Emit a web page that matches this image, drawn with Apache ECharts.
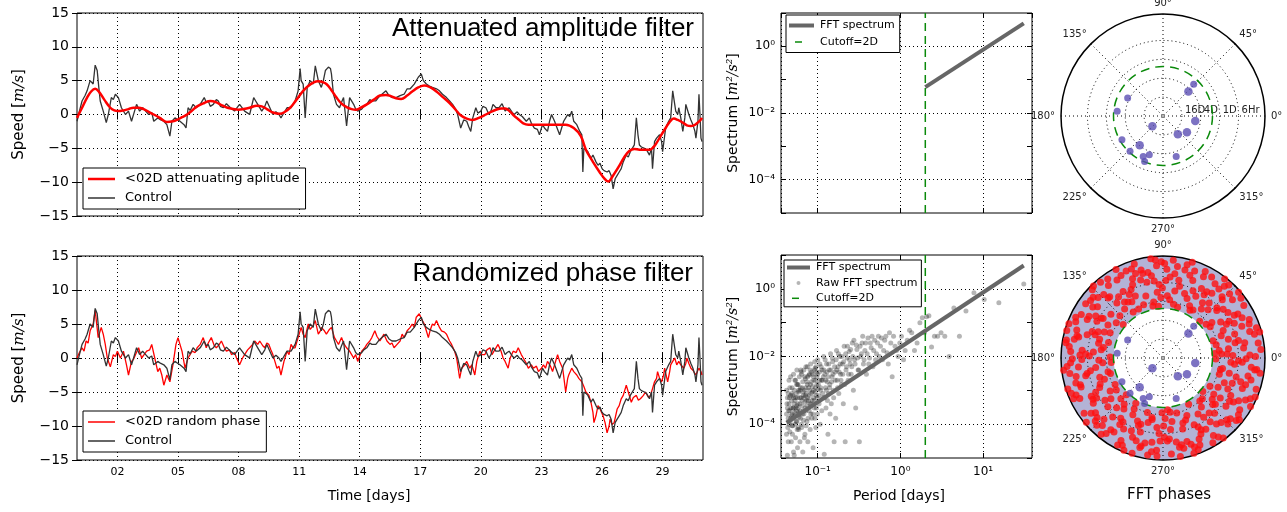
<!DOCTYPE html>
<html><head><meta charset="utf-8">
<script src="https://cdn.jsdelivr.net/npm/echarts@6/dist/echarts.min.js"></script>
<style>html,body{margin:0;padding:0;background:#fff}#c{width:1287px;height:512px}</style>
</head><body><div id="c"></div>
<script>
// ---------------- DATA ----------------
const xTickDays = [2,5,8,11,14,17,20,23,26,29];
const speedRange = [-15, 15];
const controlSeries = [[0,-1],[0.12,0.5],[0.25,2],[0.4,2.8],[0.5,3.5],[0.65,5],[0.8,4.5],[0.9,7.3],[1.0,6.5],[1.08,4],[1.15,2],[1.3,0.5],[1.45,-1.2],[1.55,0],[1.7,2.5],[1.8,2.2],[1.9,3],[2.05,2.5],[2.2,1],[2.4,0],[2.55,0.5],[2.7,-1],[2.85,0.5],[2.95,1.5],[3.1,0.5],[3.25,1],[3.4,0.5],[3.55,0],[3.7,0.3],[3.8,-1],[4.0,-0.5],[4.15,-0.8],[4.3,-1],[4.45,-1.5],[4.6,-3.2],[4.7,-1],[4.85,-0.5],[5.0,-0.8],[5.1,-1],[5.3,-1.5],[5.4,-2],[5.5,1],[5.6,0.6],[5.75,1.5],[5.9,1],[6.1,1.5],[6.3,2.5],[6.4,1.8],[6.5,2],[6.6,1.2],[6.75,1.5],[6.9,2.2],[7.0,2],[7.1,1.2],[7.25,1],[7.4,1.6],[7.6,1],[7.8,0.5],[7.9,0.9],[8.05,1.5],[8.2,0.9],[8.3,0.5],[8.45,0.2],[8.55,0],[8.75,2.5],[8.85,2],[8.95,1.5],[9.15,0.5],[9.3,1.2],[9.4,2],[9.55,1],[9.7,0],[9.85,0.4],[10.0,0],[10.1,-0.5],[10.2,0],[10.4,1],[10.6,1],[10.8,2],[10.95,3.5],[11.05,6.8],[11.1,5],[11.2,4.5],[11.3,-0.5],[11.4,4],[11.55,5],[11.7,4.5],[11.8,7.2],[11.95,5],[12.1,4],[12.2,5],[12.3,6.5],[12.45,7],[12.55,6.8],[12.6,6],[12.7,3],[12.85,1.5],[13.0,1],[13.1,1.8],[13.2,2.5],[13.35,-1.7],[13.5,2.5],[13.7,1.5],[13.8,0.8],[13.9,0.5],[14.1,0.8],[14.2,1.2],[14.35,1.5],[14.5,2.2],[14.6,2],[14.8,2],[14.95,2.6],[15.1,3],[15.3,3.5],[15.45,2.8],[15.6,2.5],[15.8,2.5],[16.0,2.8],[16.2,3],[16.35,3.8],[16.5,3.8],[16.7,4.5],[16.9,5.5],[17.05,6],[17.15,5],[17.3,4.5],[17.45,4.2],[17.6,4],[17.8,3.8],[17.95,3.5],[18.1,3],[18.3,2.5],[18.45,2],[18.6,1.5],[18.75,0.8],[18.85,0],[19.0,-2],[19.15,-0.8],[19.3,-1],[19.4,-1.8],[19.5,-2.5],[19.6,-0.5],[19.75,1],[19.85,0.2],[20.0,0.5],[20.1,1.2],[20.25,1],[20.4,0],[20.5,0.5],[20.6,1.5],[20.75,1],[20.9,1],[21.05,1.6],[21.2,0.5],[21.3,0.8],[21.4,1],[21.55,0.3],[21.65,0],[21.8,0.4],[21.9,0],[22.05,-0.3],[22.25,-1],[22.4,-0.5],[22.5,-1.3],[22.65,-2],[22.8,-2.2],[22.9,-3],[23.05,-1.5],[23.15,-2],[23.3,-2.5],[23.4,-1],[23.5,0],[23.65,-1],[23.75,-1.8],[23.9,-3],[24.0,-2],[24.1,-1],[24.2,-0.5],[24.3,0],[24.4,-0.3],[24.5,0.5],[24.6,-1],[24.75,-1.5],[24.9,-2.5],[25.0,-3],[25.05,-8.5],[25.1,-5],[25.2,-5.2],[25.3,-5.5],[25.45,-6.5],[25.55,-6],[25.7,-7],[25.8,-7.5],[25.9,-7.2],[26.0,-8],[26.1,-8.3],[26.25,-8.5],[26.35,-8.3],[26.45,-9],[26.55,-11],[26.65,-9.5],[26.75,-9],[26.85,-8.5],[26.95,-8],[27.05,-7],[27.2,-6],[27.3,-6.3],[27.4,-5.5],[27.5,-5],[27.6,-4.5],[27.7,-0.5],[27.78,-3],[27.85,-4.5],[27.95,-4.8],[28.1,-5],[28.2,-5.2],[28.35,-6],[28.45,-5],[28.5,-8],[28.6,-4],[28.7,-3.5],[28.85,-3],[28.95,-4],[29.0,-5.5],[29.15,-2],[29.3,-1],[29.4,-0.5],[29.5,3.5],[29.6,1.5],[29.65,0.5],[29.75,0],[29.8,1],[29.9,-0.5],[30.0,-2.5],[30.1,-0.5],[30.15,1.5],[30.3,0],[30.4,-0.8],[30.5,-1.5],[30.6,-2.5],[30.65,-3.5],[30.75,-1],[30.8,3],[30.85,0],[30.9,-3.5],[30.95,-4]];
const attenuatedSeries = [[0,-0.5],[0.25,1],[0.5,2.5],[0.7,3.4],[0.9,3.8],[1.1,3.3],[1.35,2.2],[1.65,1],[1.85,0.6],[2.05,0.5],[2.3,0.6],[2.55,0.8],[2.8,1],[3.05,1],[3.3,0.8],[3.55,0.4],[3.8,0],[4.1,-0.5],[4.45,-1.1],[4.75,-1],[4.95,-0.8],[5.2,-0.4],[5.45,0],[5.7,0.6],[5.95,1.2],[6.3,1.7],[6.6,2],[6.9,1.8],[7.15,1.4],[7.45,1],[7.75,0.8],[8.0,0.7],[8.25,0.8],[8.55,1],[8.9,1.3],[9.15,1.2],[9.4,0.8],[9.7,0.3],[10.05,0.1],[10.3,0.4],[10.55,1],[10.75,1.7],[10.95,2.5],[11.2,3.5],[11.45,4.2],[11.7,4.7],[11.95,4.9],[12.15,4.8],[12.35,4.5],[12.6,3.6],[12.85,2.5],[13.1,1.6],[13.35,1.1],[13.6,0.8],[13.8,0.7],[14.05,1],[14.35,1.5],[14.7,2.2],[15.0,2.8],[15.3,2.9],[15.55,2.7],[15.8,2.4],[16.05,2.3],[16.35,2.8],[16.6,3.4],[16.9,4],[17.2,4.3],[17.5,4.0],[17.8,3.4],[18.1,2.6],[18.45,1.7],[18.75,0.7],[19.0,-0.1],[19.3,-0.6],[19.6,-0.8],[19.9,-0.5],[20.25,0],[20.5,0.4],[20.75,0.7],[21.0,0.9],[21.2,0.9],[21.45,0.4],[21.65,-0.2],[21.9,-0.8],[22.1,-1.3],[22.35,-1.5],[22.6,-1.5],[23.0,-1.5],[23.4,-1.5],[23.8,-1.5],[24.2,-1.5],[24.6,-2],[24.95,-3.2],[25.2,-5.2],[25.55,-7],[25.9,-8.6],[26.1,-9.4],[26.3,-9.9],[26.55,-9],[26.85,-7.6],[27.1,-6.3],[27.35,-5.4],[27.6,-5.1],[27.85,-5.2],[28.1,-5.2],[28.35,-5.2],[28.55,-4.8],[28.7,-4.2],[28.9,-3.2],[29.15,-2],[29.35,-1.1],[29.55,-0.6],[29.75,-0.8],[30.0,-1.2],[30.2,-1.6],[30.4,-1.7],[30.55,-1.6],[30.7,-1.3],[30.85,-0.9],[30.95,-0.5]];
const randomPhaseSeries = [[0,0],[0.12,0.8],[0.25,1.5],[0.35,1],[0.45,2.5],[0.55,2.2],[0.65,4],[0.8,5],[0.9,7],[1.05,3],[1.2,4.5],[1.3,3.5],[1.4,2],[1.5,0],[1.65,-1.3],[1.8,0.5],[1.9,0.2],[2.0,1],[2.15,0],[2.3,1],[2.45,-1],[2.55,-2.5],[2.7,-0.5],[2.8,-0.2],[2.9,0.5],[3.05,1.5],[3.2,0],[3.35,0.6],[3.45,1],[3.6,1.2],[3.7,2],[3.85,0],[4.0,-2],[4.1,-1.5],[4.2,-2.5],[4.3,-4],[4.45,-2.5],[4.6,-3.5],[4.75,-1],[4.9,2],[5.0,3],[5.1,2],[5.2,1],[5.35,-1.5],[5.5,0],[5.6,0.5],[5.7,1],[5.85,0.8],[5.95,1.5],[6.1,2],[6.25,3],[6.4,1.5],[6.5,2.2],[6.65,3],[6.8,1.8],[6.9,1.5],[7.05,2],[7.15,2.5],[7.3,1.5],[7.4,1],[7.55,1.2],[7.65,0.5],[7.8,0.8],[7.9,0],[8.05,-1],[8.2,0],[8.3,0.5],[8.45,1.2],[8.55,1.5],[8.7,2],[8.8,2.5],[8.95,2],[9.05,2.5],[9.2,1.8],[9.3,1.5],[9.4,2.2],[9.5,2],[9.6,1.2],[9.7,0.5],[9.8,-0.5],[9.9,-1.5],[10.0,-1.2],[10.1,-2.5],[10.25,-0.5],[10.4,1],[10.5,0.5],[10.6,2],[10.7,1.5],[10.8,1.5],[10.95,3],[11.1,4.5],[11.2,3.5],[11.3,3],[11.45,5],[11.55,4.2],[11.6,4],[11.7,4.8],[11.8,5.5],[11.95,3.5],[12.05,4],[12.1,4.5],[12.25,4],[12.35,3.5],[12.5,4.2],[12.6,4.5],[12.75,3],[12.85,2.5],[12.95,2],[13.1,3],[13.2,2.2],[13.35,1.5],[13.5,1],[13.6,0.5],[13.7,0],[13.8,0.5],[13.9,-0.5],[14.0,0.3],[14.1,1],[14.25,1.5],[14.35,2],[14.5,2.5],[14.6,3],[14.75,4],[14.85,3.2],[15.0,2.5],[15.1,3],[15.2,3.5],[15.35,2.5],[15.5,2],[15.6,2.2],[15.7,1.5],[15.85,2],[16.0,2.5],[16.1,3.5],[16.2,3],[16.35,4],[16.5,4.5],[16.6,5],[16.7,4.5],[16.8,6],[16.95,6.5],[17.05,5.8],[17.2,5],[17.3,4],[17.4,3],[17.5,4.2],[17.6,5],[17.7,4.8],[17.8,5.5],[17.95,4.5],[18.05,4],[18.2,3.8],[18.3,3.5],[18.45,2.5],[18.55,2],[18.7,1],[18.8,0],[18.95,-3],[19.05,-1.5],[19.2,-1],[19.3,-0.5],[19.45,-1.5],[19.55,-1],[19.7,-2.5],[19.8,-0.5],[19.95,1],[20.05,0.5],[20.2,0.5],[20.3,1.2],[20.45,1.5],[20.55,0.5],[20.65,1],[20.75,1.5],[20.85,2],[21.0,1],[21.1,0],[21.2,-0.5],[21.35,-1.5],[21.45,0],[21.6,1],[21.75,0.8],[21.85,1.5],[22.0,0.5],[22.1,0],[22.25,-0.8],[22.35,-1.5],[22.5,-1],[22.6,-1.5],[22.75,-1.2],[22.85,-2],[23.0,-1.5],[23.1,-1],[23.2,-1.5],[23.3,-0.5],[23.45,-1.2],[23.55,-2],[23.65,-1],[23.8,0.5],[23.9,-0.5],[24.05,-1.5],[24.2,-5],[24.3,-3],[24.35,-2.5],[24.5,-1.5],[24.6,-2],[24.75,-2.5],[24.85,-3],[25.0,-3.5],[25.1,-4.2],[25.2,-5],[25.35,-5.5],[25.45,-6.5],[25.55,-8],[25.6,-9.5],[25.7,-8.5],[25.8,-7],[25.9,-7.5],[26.05,-8.5],[26.15,-9.5],[26.25,-11],[26.35,-10],[26.4,-9],[26.5,-9.8],[26.6,-9.5],[26.75,-7.5],[26.85,-7],[26.95,-6],[27.05,-5.5],[27.2,-4],[27.3,-5],[27.45,-6.5],[27.55,-5.8],[27.7,-5.5],[27.8,-6.2],[27.9,-6],[28.05,-5.5],[28.15,-5],[28.3,-5.8],[28.4,-5.5],[28.5,-4.5],[28.6,-3.5],[28.7,-3],[28.75,-2],[28.85,-3],[28.95,-3.5],[29.05,-2.5],[29.1,-1.5],[29.25,-3.5],[29.35,-2],[29.4,-1],[29.5,-0.5],[29.6,0],[29.7,-1],[29.8,-0.5],[29.9,-1],[30.05,-1.5],[30.15,-0.8],[30.2,0],[30.3,-0.8],[30.4,-1.5],[30.5,-1.8],[30.65,-2.5],[30.75,-1.8],[30.8,-1.5],[30.9,-2],[30.95,-2.5]];

const periodRange = [0.036, 39];
const spectrumRange = [1e-5, 10];
const cutoffPeriod = 2;
const fftLineTop = [[2,0.06],[31,4.9]];
const fftLineBottom = [[0.042,1.1e-4],[31,4.9]];
const rawSpectrum = [[0.042,2e-4],[0.042,5e-5],[0.042,1e-3],[0.043,3e-4],[0.043,1.2e-5],[0.043,6e-4],[0.044,1.5e-4],[0.044,8e-4],[0.044,3e-5],[0.045,2e-3],[0.045,1e-4],[0.045,4e-4],[0.046,6e-5],[0.046,1.2e-3],[0.046,2.5e-4],[0.047,2.5e-3],[0.047,1.5e-4],[0.047,7e-4],[0.048,5e-4],[0.048,3e-5],[0.048,1.8e-4],[0.049,1.2e-3],[0.049,2e-4],[0.049,9e-5],[0.050,7e-4],[0.050,9e-5],[0.050,3e-4],[0.051,3e-3],[0.051,3e-4],[0.051,1.5e-5],[0.052,1.2e-5],[0.052,1e-3],[0.052,4e-4],[0.053,1.8e-4],[0.053,5e-4],[0.053,2e-3],[0.054,4e-5],[0.054,2e-3],[0.054,6e-4],[0.055,2.5e-4],[0.055,8e-4],[0.055,1.2e-4],[0.056,1.2e-4],[0.056,4e-3],[0.056,3.5e-4],[0.057,6e-4],[0.057,2e-5],[0.057,1.5e-3],[0.058,3e-4],[0.058,1.5e-3],[0.058,8e-5],[0.059,7e-5],[0.059,9e-4],[0.059,2.2e-4],[0.060,2e-4],[0.060,2.5e-3],[0.061,4e-4],[0.061,3e-5],[0.061,1e-3],[0.062,1.2e-3],[0.062,1.5e-4],[0.063,6e-4],[0.063,3.5e-3],[0.064,3e-3],[0.064,8e-5],[0.065,3.5e-4],[0.065,1.2e-3],[0.066,1.8e-3],[0.066,1.5e-5],[0.067,7e-4],[0.067,2.5e-4],[0.068,2e-4],[0.068,4e-3],[0.069,1e-3],[0.069,4e-5],[0.070,5e-5],[0.070,4.5e-4],[0.071,2.2e-3],[0.071,7e-4],[0.072,2.5e-4],[0.072,5e-3],[0.073,8e-4],[0.074,1.2e-4],[0.074,1.8e-3],[0.075,5e-3],[0.075,1.5e-3],[0.076,3e-5],[0.076,6e-4],[0.077,5e-4],[0.078,2.8e-3],[0.079,2.5e-4],[0.080,1e-3],[0.081,7e-5],[0.081,4e-3],[0.082,6e-3],[0.083,4e-4],[0.084,1.8e-3],[0.085,1.5e-4],[0.086,9e-4],[0.087,3e-3],[0.088,2e-5],[0.089,6e-4],[0.090,2e-3],[0.091,3e-4],[0.092,7e-3],[0.093,4.5e-3],[0.094,1.2e-3],[0.095,8e-5],[0.096,7e-4],[0.097,3.5e-3],[0.098,2.5e-3],[0.099,2e-4],[0.100,8e-3],[0.101,1.1e-3],[0.102,1.5e-3],[0.104,4e-4],[0.105,3.5e-3],[0.106,6e-3],[0.107,1e-4],[0.108,1e-3],[0.110,5e-3],[0.111,2e-3],[0.112,2.5e-4],[0.114,2e-3],[0.116,6e-4],[0.118,1e-2],[0.119,4e-3],[0.120,1.3e-5],[0.122,3e-3],[0.124,1.2e-3],[0.126,3e-4],[0.128,6e-3],[0.130,1.8e-3],[0.133,5e-5],[0.135,8e-4],[0.138,4e-3],[0.140,1.5e-3],[0.143,1.2e-2],[0.146,4e-4],[0.149,2.5e-3],[0.152,7e-3],[0.155,1e-3],[0.158,3e-5],[0.162,3.5e-3],[0.165,1.5e-4],[0.169,1.5e-2],[0.172,2e-3],[0.176,5e-3],[0.180,8e-4],[0.185,1e-2],[0.189,3e-3],[0.194,1.5e-3],[0.199,6e-3],[0.204,4e-4],[0.209,2e-2],[0.215,3e-5],[0.220,4e-3],[0.226,9e-3],[0.233,2e-3],[0.240,1.4e-2],[0.247,6e-3],[0.254,3e-3],[0.262,2.5e-2],[0.270,1e-3],[0.279,8e-3],[0.288,3e-4],[0.298,1.6e-2],[0.308,4e-3],[0.319,3e-5],[0.331,1e-2],[0.344,2.5e-2],[0.357,6e-3],[0.372,1.5e-2],[0.388,3e-3],[0.405,3.5e-2],[0.423,9e-3],[0.443,1.8e-2],[0.465,5e-3],[0.488,3e-2],[0.514,1.2e-2],[0.542,4e-2],[0.574,2e-2],[0.608,8e-3],[0.646,3e-2],[0.689,1.3e-2],[0.738,5e-2],[0.795,2.5e-3],[0.861,2e-2],[0.939,1e-2],[1.03,4e-2],[1.14,1.5e-2],[1.29,6e-2],[1.48,1.5e-2],[1.72,0.1],[1.84,0.14],[2.07,0.15],[2.21,0.16],[2.38,0.019],[2.58,0.04],[2.82,0.04],[3.1,0.05],[3.44,0.04],[3.88,0.01],[4.43,0.27],[5.17,0.04],[6.2,0.22],[7.75,0.76],[10.3,0.48],[15.5,0.39],[31,1.4],
[0.0425,4e-4],[0.0435,8e-5],[0.0445,2.5e-4],[0.0455,6e-4],[0.0465,1.2e-4],[0.0475,3e-4],[0.0485,8e-4],[0.0495,5e-5],[0.0505,1.5e-4],[0.0515,6e-4],[0.0525,2.2e-4],[0.0535,1e-4],[0.0545,3e-4],[0.0555,1.5e-3],[0.0565,7e-5],[0.0575,4e-4],[0.0585,1e-3],[0.0595,1.6e-4],[0.0605,6e-4],[0.0615,2.5e-4],[0.0625,4e-3],[0.0635,1e-4],[0.0645,5e-4],[0.0655,2e-4],[0.0665,9e-4],[0.0675,1.3e-4],[0.0685,6e-4],[0.0695,2.5e-3],[0.0705,3e-4],[0.0715,1.2e-3],[0.0725,9e-5],[0.0735,5e-4],[0.0745,3.5e-4],[0.0755,2.5e-3],[0.0765,1.5e-4],[0.0775,1.2e-3],[0.0785,7e-4],[0.0795,3e-3],[0.0805,4e-4],[0.0815,1.5e-3],[0.0825,2e-4],[0.0835,8e-4],[0.0845,3.5e-3],[0.0855,5e-4],[0.0865,1.3e-3],[0.0875,2e-4],[0.0885,2.5e-3],[0.0895,1e-3],[0.0905,5e-4],[0.0915,4e-3],[0.0925,1.5e-4],[0.0935,9e-4],[0.0945,2e-3],[0.0955,5e-3],[0.0965,3e-4],[0.0975,1.5e-3],[0.0985,6e-4],[0.0995,3e-3],[0.103,7e-4],[0.106,2e-3],[0.109,1.2e-3],[0.113,4e-3],[0.115,8e-4],[0.117,2.5e-3],[0.121,6e-4],[0.123,8e-3],[0.125,2e-3],[0.127,1e-3],[0.129,3.5e-3],[0.131,5e-4],[0.134,2.5e-3],[0.136,6e-3],[0.139,1.2e-3],[0.141,2e-4],[0.144,4e-3],[0.147,1.8e-3],[0.150,9e-3],[0.153,3e-3],[0.156,6e-4],[0.160,5e-3],[0.163,2e-3],[0.167,8e-3],[0.170,4e-3],[0.174,1.2e-3],[0.178,1.2e-2],[0.182,3.5e-3],[0.187,6e-3],[0.191,2e-3],[0.196,1e-2],[0.201,3e-3],[0.206,7e-3],[0.212,1.5e-3],[0.218,1.2e-2],[0.223,5e-3],[0.229,2e-2],[0.236,3e-3],[0.243,8e-3],[0.250,1.6e-2],[0.258,5e-3],[0.266,1e-2],[0.274,3e-2],[0.283,6e-3],[0.293,2.2e-2],[0.303,9e-3],[0.313,4e-3],[0.325,2e-2],[0.337,1.2e-2],[0.350,4e-2],[0.364,8e-3],[0.380,2.5e-2],[0.396,1.2e-2],[0.414,6e-3],[0.433,2.5e-2],[0.454,4e-2],[0.476,1.5e-2],[0.501,8e-3],[0.528,2.5e-2],[0.557,1e-2],[0.590,3.5e-2],[0.627,1.5e-2],[0.667,4e-2],[0.713,6e-3],[0.765,2.5e-2],[0.826,4e-2],[0.897,1.5e-2],[0.983,2.5e-2],[1.09,8e-3],[1.21,3e-2],[1.37,5e-2],[1.59,2.5e-2],[1.95,0.05]];

// polar: [radius (grid units), angle in degrees]
const radialGrid = [1,2,3,4];
const radialLabels = ['16D','4D','1D','6Hr'];
const radialMax = 5.4;
const cutoffRadius = 2.62;
const lowFreqPhases = [[2.34,46],[1.87,44],[2.10,153],[2.44,174],[1.73,351],[0.78,224],[1.25,309],[1.53,326],[2.51,210],[1.98,231.5],[2.56,227],[2.17,250.5],[2.39,244],[2.60,248],[2.26,288]];
const highFreqPhases = [[3.1,4],[4.6,2],[5.1,9],[3.9,12],[4.3,7],[2.9,14],[4.9,1],[3.5,8],[4.1,13],[5.2,5],[3.7,2],
[4.8,17],[3.3,21],[4.2,26],[5.0,24],[2.8,19],[3.8,28],[4.5,22],[5.2,18],[3.6,16],[4.0,29],[4.7,27],
[4.4,31],[3.2,36],[5.1,33],[4.8,40],[3.9,43],[2.9,38],[4.2,35],[4.9,44],[3.6,32],[5.3,41],[4.1,39],
[4.5,46],[3.8,50],[5.2,48],[4.8,55],[3.0,58],[4.3,53],[3.5,47],[5.0,59],[4.0,57],[4.7,51],[3.3,52],
[4.2,61],[5.1,64],[3.4,68],[4.6,72],[3.9,66],[2.8,74],[4.9,70],[3.7,62],[5.3,73],[4.4,69],[3.1,63],
[4.8,76],[3.6,80],[5.2,84],[4.1,88],[2.9,79],[4.5,82],[3.3,86],[5.0,89],[3.9,77],[4.3,85],[4.9,81],
[5.1,91],[3.5,95],[4.4,98],[2.8,101],[4.8,104],[3.9,93],[4.1,102],[5.3,97],[3.2,92],[4.6,100],[4.9,94],
[4.3,106],[3.0,110],[5.0,113],[3.8,118],[4.7,108],[4.0,115],[5.2,107],[3.4,119],[4.5,111],[3.6,114],[4.9,117],
[4.1,121],[5.1,125],[3.3,128],[4.6,133],[2.9,123],[3.8,130],[4.8,127],[5.3,134],[3.5,122],[4.3,131],[4.0,126],
[4.7,137],[3.6,140],[5.0,145],[4.2,148],[3.1,143],[4.9,139],[3.9,147],[5.2,136],[4.4,142],[3.4,149],[4.6,144],
[4.0,151],[5.1,155],[3.7,158],[4.8,162],[3.0,164],[4.5,153],[5.3,160],[3.4,156],[4.2,163],[4.9,152],[3.8,161],
[4.6,166],[3.2,170],[5.0,173],[4.1,177],[2.8,179],[4.8,168],[3.7,175],[5.2,171],[4.4,178],[3.5,167],[4.9,176],
[4.3,181],[5.1,185],[3.6,188],[4.7,192],[3.0,194],[4.9,183],[3.9,190],[5.3,187],[4.2,193],[3.4,182],[4.5,186],
[4.8,196],[3.3,200],[5.0,203],[4.0,207],[2.9,209],[4.6,198],[3.7,205],[5.2,201],[4.3,208],[3.5,197],[4.9,206],
[4.1,211],[5.1,215],[3.5,218],[4.7,222],[3.1,224],[4.4,213],[5.3,220],[3.8,216],[4.9,223],[3.3,212],[4.6,219],
[4.5,226],[3.2,230],[5.0,233],[4.2,237],[2.8,239],[4.8,228],[3.9,235],[5.2,231],[4.0,238],[3.6,227],[4.7,234],
[4.3,241],[5.1,245],[3.6,248],[4.6,252],[3.0,254],[4.9,243],[3.8,250],[5.3,247],[4.1,253],[3.4,242],[4.5,249],
[4.8,256],[3.3,260],[5.0,263],[4.0,267],[2.9,269],[4.6,258],[3.7,265],[5.2,261],[4.4,268],[3.5,257],[4.9,266],
[4.2,271],[5.1,275],[3.4,278],[4.7,282],[3.0,284],[4.4,273],[5.3,280],[3.8,276],[4.9,283],[3.2,272],[4.5,279],
[4.6,286],[3.5,290],[5.0,293],[4.1,297],[2.8,299],[4.8,288],[3.9,295],[5.2,291],[4.3,298],[3.6,287],[4.7,294],
[4.4,301],[5.1,305],[3.3,308],[4.6,312],[3.0,314],[4.9,303],[3.8,310],[5.3,307],[4.0,313],[3.5,302],[4.5,309],
[4.7,316],[3.4,320],[5.0,323],[4.2,327],[2.9,329],[4.8,318],[3.7,325],[5.2,321],[4.4,328],[3.6,317],[4.9,326],
[4.1,331],[5.1,335],[3.5,338],[4.6,342],[3.1,344],[4.9,333],[3.9,340],[5.3,337],[4.3,343],[3.3,332],[4.5,339],
[4.8,346],[3.2,350],[5.0,353],[4.2,357],[2.8,359],[4.6,348],[3.8,355],[5.2,351],[4.0,358],[3.6,347],[4.7,354],
[3.4,3.5],[4.4,10.5],[5.0,14.5],[3.0,7.5],[4.0,18.5],[4.9,21.5],[3.5,24.5],[4.6,30.5],[3.0,33.5],[5.2,37.5],[3.8,41.5],[4.4,44.5],[5.0,49.5],[3.6,54.5],[4.2,56.5],[2.9,60.5],[4.8,63.5],[3.6,71.5],[5.1,75.5],[4.2,78.5],[3.1,83.5],[4.7,87.5],[3.7,90.5],[5.2,94.5],[4.1,96.5],[3.0,99.5],[4.6,103.5],[3.4,105.5],[5.0,109.5],[4.2,112.5],[2.9,116.5],[4.8,120.5],[3.6,124.5],[5.2,129.5],[4.3,132.5],[3.2,135.5],[4.9,141.5],[3.8,146.5],[4.5,150.5],[3.1,154.5],[5.0,157.5],[4.0,159.5],[3.5,163.5],[4.7,165.5],[5.2,169.5],[3.3,172.5],[4.3,174.5],[3.9,178.5],[4.8,180.5],[3.2,184.5],[5.0,189.5],[4.1,191.5],[2.9,196.5],[4.6,199.5],[3.6,202.5],[5.2,204.5],[4.3,210.5],[3.0,214.5],[4.8,217.5],[3.9,221.5],[5.0,225.5],[4.1,229.5],[3.4,232.5],[4.7,236.5],[3.1,240.5],[5.2,242.5],[4.2,246.5],[3.7,251.5],[4.9,255.5],[3.2,259.5],[4.5,262.5],[5.2,266.5],[3.6,270.5],[4.3,274.5],[2.9,277.5],[4.8,280.5],[3.9,285.5],[5.0,289.5],[3.3,292.5],[4.5,296.5],[5.2,300.5],[3.8,304.5],[4.2,306.5],[3.0,310.5],[4.9,314.5],[3.7,318.5],[5.1,319.5],[4.2,322.5],[3.3,324.5],[4.6,330.5],[3.8,334.5],[5.2,341.5],[4.0,345.5],[3.1,348.5],[4.9,352.5],[3.6,356.5],[4.4,359.5],
[5.3,15],[5.3,52],[5.3,118],[5.3,164],[5.3,198],[5.3,252],[5.3,288],[5.3,331],[2.75,45],[2.75,95],[2.75,140],[2.75,185],[2.75,225],[2.75,275],[2.75,320],[2.75,5]];

// ---------------- STYLE / HELPERS ----------------
const FONT = 'DejaVu Sans';
const BLACK = '#000';
const GREEN = '#0a8a0a';
const dotted = {color: BLACK, type: [1, 3], width: 1};
const minusFmt = v => String(v).replace('-', '\u2212');
const SUP = {'-':'\u207B','0':'\u2070','1':'\u00B9','2':'\u00B2','3':'\u00B3','4':'\u2074','5':'\u2075'};
const decadeFmt = evenOnly => v => {
  const l = Math.log10(v), e = Math.round(l);
  if (Math.abs(l - e) > 1e-6) return '';
  if (evenOnly && e % 2 !== 0) return '';
  return '10' + String(e).split('').map(c => SUP[c]).join('');
};
const tick = () => ({show: true, inside: true, length: 5, lineStyle: {color: BLACK, width: 1}});
// legend icon: a horizontal bar (line sample) of given thickness centred in a w x h box
const barIcon = (w, h, t, x0, x1) =>
  `path://M0,0M${w},0M${w},${h}M0,${h}M${x0},${(h - t) / 2}h${x1 - x0}v${t}h${x0 - x1}z`;

function timeAxis(gridIndex, position, labels) {
  return {type: 'value', gridIndex, position, min: 0, max: 31,
    name: labels ? 'Time [days]' : '', nameLocation: 'middle', nameGap: 29,
    nameTextStyle: {fontFamily: FONT, fontSize: 14, color: BLACK, padding: [0, 42, 0, 0]},
    axisLine: {show: false},
    axisTick: Object.assign(tick(), {customValues: xTickDays}),
    axisLabel: {show: labels, customValues: xTickDays, formatter: v => String(v).padStart(2, '0'),
      fontFamily: FONT, fontSize: 11, color: BLACK, margin: 7},
    splitLine: {show: position === 'bottom', lineStyle: dotted}};
}
function speedAxis(gridIndex, position) {
  const main = position === 'left';
  return {type: 'value', gridIndex, position, min: speedRange[0], max: speedRange[1], interval: 5,
    name: main ? '{n|Speed [}{i|m/s}{n|]}' : '', nameLocation: 'middle', nameGap: 50, nameRotate: 90,
    nameTextStyle: {rich: {n: {fontFamily: FONT, fontSize: 15, color: BLACK},
      i: {fontFamily: 'DejaVu Serif', fontStyle: 'italic', fontSize: 15, color: BLACK}}},
    axisLine: {show: false}, axisTick: tick(),
    axisLabel: {show: main, formatter: minusFmt, fontFamily: FONT, fontSize: 14, color: BLACK, margin: 8},
    splitLine: {show: main, lineStyle: dotted}};
}
function periodAxis(gridIndex, position, labels) {
  return {type: 'log', logBase: 10, gridIndex, position, min: periodRange[0], max: periodRange[1],
    name: labels ? 'Period [days]' : '', nameLocation: 'middle', nameGap: 31,
    nameTextStyle: {fontFamily: FONT, fontSize: 14, color: BLACK, padding: [0, 15, 0, 0]},
    axisLine: {show: false}, axisTick: tick(),
    axisLabel: {show: labels, formatter: decadeFmt(false), fontFamily: FONT, fontSize: 12, color: BLACK, margin: 8,
      showMinLabel: false, showMaxLabel: false},
    splitLine: {show: position === 'bottom', lineStyle: dotted}};
}
function spectrumAxis(gridIndex, position) {
  const main = position === 'left';
  return {type: 'log', logBase: 10, gridIndex, position, min: spectrumRange[0], max: spectrumRange[1],
    name: main ? '{n|Spectrum [}{i|m\u00B2/s\u00B2}{n|]}' : '', nameLocation: 'middle', nameGap: 41, nameRotate: 90,
    nameTextStyle: {rich: {n: {fontFamily: FONT, fontSize: 14, color: BLACK},
      i: {fontFamily: 'DejaVu Serif', fontStyle: 'italic', fontSize: 14, color: BLACK}}},
    axisLine: {show: false}, axisTick: tick(),
    axisLabel: {show: main, formatter: decadeFmt(true), fontFamily: FONT, fontSize: 12, color: BLACK, margin: 6},
    splitLine: {show: main, lineStyle: {color: ['rgba(0,0,0,0)', BLACK], type: [1, 3], width: 1}}};
}
function circleSeries(polarIndex, data, style, z, ring) {
  return {type: 'custom', coordinateSystem: 'polar', polarIndex, data, z, silent: true,
    renderItem: (params, api) => {
      const cs = params.coordSys;
      const p = api.coord([api.value(0), api.value(1)]);
      const rr = Math.hypot(p[0] - cs.cx, p[1] - cs.cy);
      if (ring) return {type: 'ring', shape: {cx: cs.cx, cy: cs.cy, r: cs.r, r0: rr}, style};
      return {type: 'circle', shape: {cx: cs.cx, cy: cs.cy, r: rr}, style};
    }};
}
const legendBase = {orient: 'vertical', borderColor: BLACK, borderWidth: 1, borderRadius: 0,
  backgroundColor: '#fff', selectedMode: false, inactiveColor: '#000'};

const chart = echarts.init(document.getElementById('c'), null, {renderer: 'canvas'});
const option = {
  animation: false,
  backgroundColor: '#fff',
  textStyle: {fontFamily: FONT},
  title: [
    {text: 'Attenuated amplitude filter', right: 1287 - 694, top: 16, padding: 0,
      textStyle: {fontFamily: 'Liberation Sans', fontSize: 26, fontWeight: 'normal', color: BLACK}},
    {text: 'Randomized phase filter', right: 1287 - 693, top: 261, padding: 0,
      textStyle: {fontFamily: 'Liberation Sans', fontSize: 26, fontWeight: 'normal', color: BLACK}},
    {text: 'FFT phases', left: 1127, top: 488, padding: 0,
      textStyle: {fontFamily: FONT, fontSize: 15, fontWeight: 'normal', color: BLACK}}
  ],
  grid: [
    {left: 77, top: 13, width: 626, height: 203},
    {left: 77, top: 256, width: 626, height: 204},
    {left: 781, top: 13, width: 251, height: 200},
    {left: 781, top: 255, width: 251, height: 203}
  ].map(g => Object.assign(g, {show: true, borderColor: BLACK, borderWidth: 1, backgroundColor: 'rgba(0,0,0,0)'})),
  xAxis: [
    timeAxis(0, 'bottom', false), timeAxis(0, 'top', false),
    timeAxis(1, 'bottom', true), timeAxis(1, 'top', false),
    periodAxis(2, 'bottom', false), periodAxis(2, 'top', false),
    periodAxis(3, 'bottom', true), periodAxis(3, 'top', false)
  ],
  yAxis: [
    speedAxis(0, 'left'), speedAxis(0, 'right'),
    speedAxis(1, 'left'), speedAxis(1, 'right'),
    spectrumAxis(2, 'left'), spectrumAxis(2, 'right'),
    spectrumAxis(3, 'left'), spectrumAxis(3, 'right')
  ],
  polar: [{center: [1163, 116], radius: 102}, {center: [1163, 358], radius: 102}],
  angleAxis: [0, 1].map(i => ({polarIndex: i, type: 'value', min: 0, max: 360, interval: 45,
    startAngle: 0, clockwise: false, z: 0,
    axisLine: {lineStyle: {color: BLACK, width: 1.5}}, axisTick: {show: false},
    axisLabel: {formatter: v => v + '\u00B0', fontFamily: FONT, fontSize: 10, color: '#222', margin: 6},
    splitLine: {show: true, lineStyle: dotted}})),
  radiusAxis: [0, 1].map(i => ({polarIndex: i, type: 'value', min: 0, max: radialMax, interval: 1,
    axisLine: {show: false}, axisTick: {show: false}, splitLine: {show: false},
    axisLabel: {show: i === 0, formatter: v => radialLabels[v - 1] || '', align: 'left', verticalAlign: 'bottom',
      margin: 0, padding: [0, 0, 1, 3], fontFamily: FONT, fontSize: 10, color: '#222'}})),
  legend: [
    Object.assign({}, legendBase, {left: 83, top: 168,
      data: [{name: '<02D attenuating aplitude', icon: barIcon(27, 14, 2.5, 0, 27)},
             {name: 'Control', icon: barIcon(27, 14, 1.5, 0, 27)}],
      itemWidth: 27, itemHeight: 14, itemGap: 5, padding: [4, 6, 4, 5],
      textStyle: {fontFamily: FONT, fontSize: 13, color: BLACK, padding: [0, 0, 0, 5]}}),
    Object.assign({}, legendBase, {left: 83, top: 411,
      data: [{name: '<02D random phase', icon: barIcon(27, 14, 1.5, 0, 27)},
             {name: 'Control', icon: barIcon(27, 14, 1.5, 0, 27)}],
      itemWidth: 27, itemHeight: 14, itemGap: 5, padding: [4, 6, 4, 5],
      textStyle: {fontFamily: FONT, fontSize: 13, color: BLACK, padding: [0, 0, 0, 5]}}),
    Object.assign({}, legendBase, {left: 786, top: 15,
      data: [{name: 'FFT spectrum', icon: barIcon(25, 11, 4, 0, 25)},
             {name: 'Cutoff=2D', icon: barIcon(25, 11, 1.5, 6, 13)}],
      itemWidth: 25, itemHeight: 11, itemGap: 5.5, padding: [5, 5, 5, 3],
      textStyle: {fontFamily: FONT, fontSize: 11, color: BLACK, padding: [0, 0, 0, 1]}}),
    Object.assign({}, legendBase, {left: 784, top: 260,
      data: [{name: 'FFT spectrum', icon: barIcon(23, 10, 4, 0, 23)},
             {name: 'Raw FFT spectrum', icon: 'path://M0,0M23,0M23,10M0,10M9.5,5a2,2 0 1,0 4,0a2,2 0 1,0 -4,0z'},
             {name: 'Cutoff=2D', icon: barIcon(23, 10, 1.5, 5, 12)}],
      itemWidth: 23, itemHeight: 10, itemGap: 4.4, padding: [2, 4, 3, 3],
      textStyle: {fontFamily: FONT, fontSize: 11, color: BLACK, padding: [0, 0, 0, 1]}})
  ],
  series: [
    // top-left
    {type: 'line', name: 'Control', xAxisIndex: 0, yAxisIndex: 0, data: controlSeries, symbol: 'none',
      color: '#333', lineStyle: {color: '#333', width: 1.3}},
    {type: 'line', name: '<02D attenuating aplitude', xAxisIndex: 0, yAxisIndex: 0, data: attenuatedSeries,
      symbol: 'none', smooth: 0.4, color: '#ff0000', lineStyle: {color: '#ff0000', width: 2.5}},
    // bottom-left
    {type: 'line', name: '<02D random phase', xAxisIndex: 2, yAxisIndex: 2, data: randomPhaseSeries,
      symbol: 'none', color: '#ff0000', lineStyle: {color: '#ff0000', width: 1.3}},
    {type: 'line', name: 'Control', xAxisIndex: 2, yAxisIndex: 2, data: controlSeries, symbol: 'none',
      color: '#333', lineStyle: {color: '#333', width: 1.3}},
    // top-middle
    {type: 'line', name: 'FFT spectrum', xAxisIndex: 4, yAxisIndex: 4, data: fftLineTop, symbol: 'none',
      color: '#666', lineStyle: {color: '#666', width: 4}},
    {type: 'line', name: 'Cutoff=2D', xAxisIndex: 4, yAxisIndex: 4,
      data: [[cutoffPeriod, spectrumRange[0]], [cutoffPeriod, spectrumRange[1]]], symbol: 'none',
      color: GREEN, lineStyle: {color: GREEN, width: 1.5, type: [8, 5]}},
    // bottom-middle
    {type: 'scatter', name: 'Raw FFT spectrum', xAxisIndex: 6, yAxisIndex: 6, data: rawSpectrum, symbolSize: 5,
      color: 'rgba(0,0,0,0.36)', itemStyle: {color: 'rgba(0,0,0,0.36)'}},
    {type: 'line', name: 'FFT spectrum', xAxisIndex: 6, yAxisIndex: 6, data: fftLineBottom, symbol: 'none',
      color: '#666', lineStyle: {color: '#666', width: 4}},
    {type: 'line', name: 'Cutoff=2D', xAxisIndex: 6, yAxisIndex: 6,
      data: [[cutoffPeriod, spectrumRange[0]], [cutoffPeriod, spectrumRange[1]]], symbol: 'none',
      color: GREEN, lineStyle: {color: GREEN, width: 1.5, type: [8, 5]}},
    // top polar
    circleSeries(0, radialGrid.map(r => [r, 0]), {fill: 'none', stroke: BLACK, lineWidth: 1, lineDash: [1, 3]}, 1),
    circleSeries(0, [[cutoffRadius, 0]], {fill: 'none', stroke: GREEN, lineWidth: 1.5, lineDash: [9, 6]}, 3),
    {type: 'scatter', coordinateSystem: 'polar', polarIndex: 0, data: lowFreqPhases, z: 4,
      symbolSize: v => v[0] < 2 ? 8.5 : 7, itemStyle: {color: '#5b4fb3'}},
    // bottom polar
    circleSeries(1, [[cutoffRadius, 0]], {fill: '#b3b3d6'}, -1, true),
    circleSeries(1, radialGrid.map(r => [r, 0]), {fill: 'none', stroke: BLACK, lineWidth: 1, lineDash: [1, 3]}, 1),
    {type: 'scatter', coordinateSystem: 'polar', polarIndex: 1, data: highFreqPhases, z: 2,
      symbolSize: 7, itemStyle: {color: '#ff1010'}},
    circleSeries(1, [[cutoffRadius, 0]], {fill: 'none', stroke: GREEN, lineWidth: 1.5, lineDash: [9, 6]}, 3),
    {type: 'scatter', coordinateSystem: 'polar', polarIndex: 1, data: lowFreqPhases, z: 4,
      symbolSize: v => v[0] < 2 ? 8.5 : 7, itemStyle: {color: '#5b4fb3'}}
  ]
};
chart.setOption(option);
</script>
</body></html>
